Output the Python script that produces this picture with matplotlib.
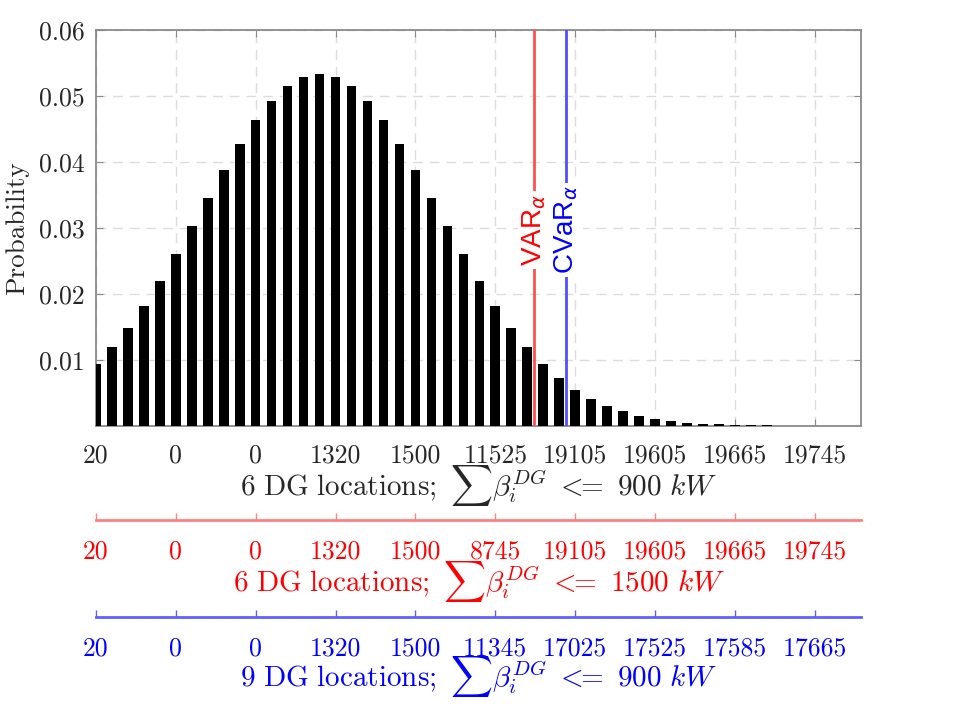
import numpy as np
import matplotlib
matplotlib.use("Agg")
import matplotlib.pyplot as plt

plt.rcParams['mathtext.fontset'] = 'cm'
plt.rcParams['font.family'] = ['cmr10', 'DejaVu Serif']

# ---------------- data ----------------
probability = [0.0094, 0.0119, 0.0149, 0.0182, 0.0220, 0.0260, 0.0303, 0.0346,
               0.0388, 0.0428, 0.0463, 0.0493, 0.0515, 0.0529, 0.0533, 0.0529,
               0.0515, 0.0493, 0.0463, 0.0428, 0.0388, 0.0346, 0.0303, 0.0260,
               0.0220, 0.0182, 0.0149, 0.0119, 0.0094, 0.0072, 0.0055, 0.0041,
               0.0030, 0.0022, 0.0015, 0.0011, 0.0007, 0.0005, 0.00035, 0.00025,
               0.00018, 0.00012, 0.00009, 0.00006, 0.00005, 0.00004, 0.00003, 0.00003]
tick_bins = [0, 5, 10, 15, 20, 25, 30, 35, 40, 45]
labels_900_6 = ['20', '0', '0', '1320', '1500', '11525', '19105', '19605', '19665', '19745']
labels_1500_6 = ['20', '0', '0', '1320', '1500', '8745', '19105', '19605', '19665', '19745']
labels_900_9 = ['20', '0', '0', '1320', '1500', '11345', '17025', '17525', '17585', '17665']
y_ticks = [0.01, 0.02, 0.03, 0.04, 0.05, 0.06]
y_tick_labels = ['0.01', '0.02', '0.03', '0.04', '0.05', '0.06']
var_bin = 27.45
cvar_bin = 29.45
label_level = 0.0297

title_900_6 = r'$\mathrm{6\ DG\ locations;}\ \sum\beta_i^{DG}\ <\!\!\!=\ 900\ kW$'
title_1500_6 = r'$\mathrm{6\ DG\ locations;}\ \sum\beta_i^{DG}\ <\!\!\!=\ 1500\ kW$'
title_900_9 = r'$\mathrm{9\ DG\ locations;}\ \sum\beta_i^{DG}\ <\!\!\!=\ 900\ kW$'

# ---------------- layout ----------------
W, H = 957, 706
fig = plt.figure(figsize=(W / 100, H / 100), dpi=100)
left, right, top, bottom = 96, 861, 30, 426
ax = fig.add_axes([left / W, (H - bottom) / H, (right - left) / W, (bottom - top) / H])

x = np.arange(len(probability))
ax.bar(x, probability, width=0.6, color='black', zorder=3)
ax.set_xlim(0, 47.9)
ax.set_ylim(0, 0.06)

dark = '#262626'
spine_col = '#8a8a8a'
for s in ax.spines.values():
    s.set_color(spine_col)
    s.set_linewidth(1.3)

ax.set_xticks(tick_bins)
ax.set_xticklabels(labels_900_6)
ax.set_yticks(y_ticks)
ax.set_yticklabels(y_tick_labels)
ax.tick_params(axis='both', direction='in', length=5, color=spine_col,
               labelsize=18.5, labelcolor=dark, top=True, right=True)
ax.tick_params(axis='x', pad=13)
ax.tick_params(axis='y', pad=8)
ax.set_axisbelow(True)
ax.grid(True, color='#dcdcdc', linestyle=(0, (7, 5)), linewidth=1.0)

# VaR / CVaR lines
ax.axvline(var_bin, color='#ff4f4f', lw=2, zorder=4)
ax.axvline(cvar_bin, color='#4f4fff', lw=2, zorder=4)
ax.text(cvar_bin, label_level, r'CVaR$_\alpha$', rotation=90, color='#0000ff',
        ha='center', va='center', fontsize=20, family='Liberation Sans',
        math_fontfamily='dejavusans', zorder=5,
        bbox=dict(facecolor='white', edgecolor='none', pad=2))
ax.text(var_bin, label_level, r'VAR$_\alpha$', rotation=90, color='#ff0000',
        ha='center', va='center', fontsize=20, family='Liberation Sans',
        math_fontfamily='dejavusans', zorder=6,
        bbox=dict(facecolor='white', edgecolor='none', pad=2))

# y label
fig.text(17 / W, (H - 228) / H, 'Probability', rotation=90, ha='center', va='center',
         fontsize=19.5, color=dark)

# secondary axes
def extra_axis(y_px, labels, line_col, text_col):
    a = fig.add_axes([left / W, (H - y_px) / H, (right - left) / W, 0.0001])
    a.patch.set_visible(False)
    for k in ('top', 'left', 'right'):
        a.spines[k].set_visible(False)
    a.spines['bottom'].set_color(line_col)
    a.spines['bottom'].set_linewidth(2)
    a.set_xlim(ax.get_xlim())
    a.set_yticks([])
    a.set_xticks(tick_bins)
    a.set_xticklabels(labels)
    a.tick_params(axis='x', direction='in', length=5, width=1, color=line_col,
                  labelcolor=text_col, labelsize=18.5, pad=14)
    return a

extra_axis(520, labels_1500_6, '#ff8080', '#ff0000')
extra_axis(617, labels_900_9, '#6060ff', '#0000ff')

cx = (left + right) / 2 / W
fig.text(cx, (H - 495) / H, title_900_6, ha='center', va='baseline', fontsize=21, color=dark)
fig.text(cx, (H - 591.5) / H, title_1500_6, ha='center', va='baseline', fontsize=21, color='#ff0000')
fig.text(cx, (H - 686.5) / H, title_900_9, ha='center', va='baseline', fontsize=21, color='#0000ff')

fig.savefig('out.png', dpi=100)
